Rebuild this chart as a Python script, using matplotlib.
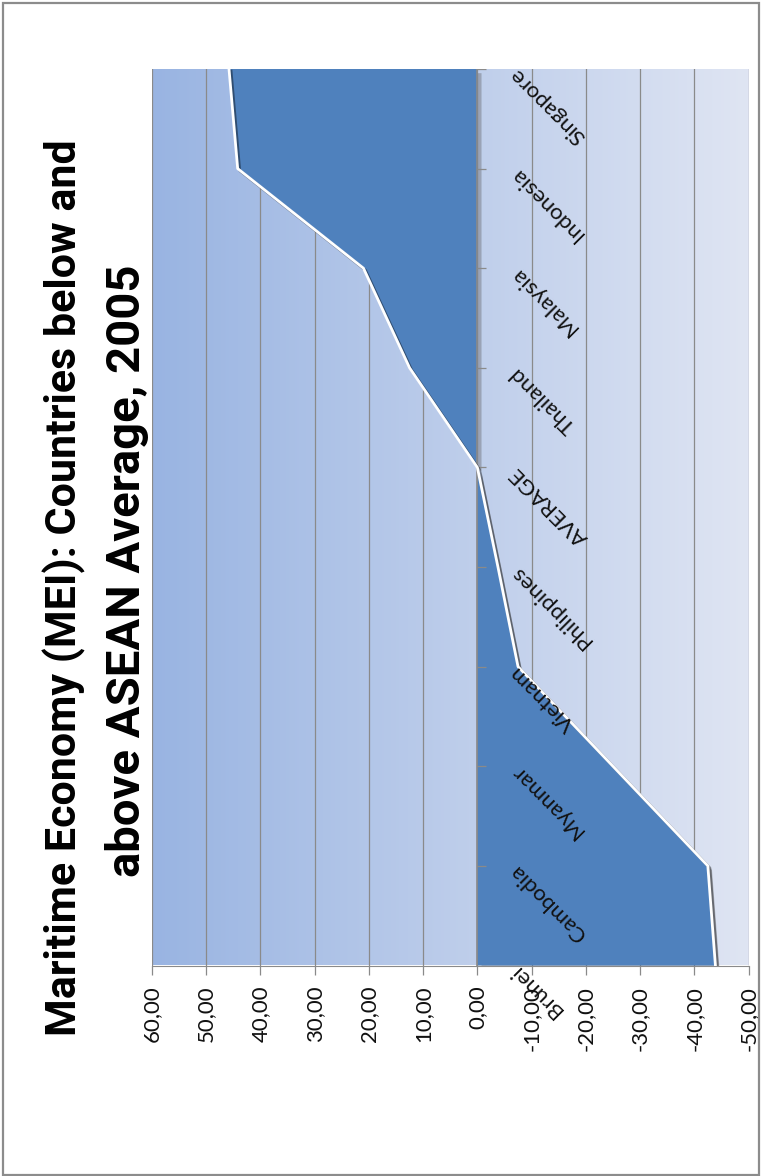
import numpy as np
import matplotlib
matplotlib.use("Agg")
import matplotlib.pyplot as plt
import matplotlib.patheffects as pe
from matplotlib.patches import Rectangle

plt.rcParams['font.family'] = ['Lato', 'DejaVu Sans']

# Data (MEI relative to ASEAN average, 2005)
countries = ["Brunei", "Cambodia", "Myanmar", "Vietnam", "Philippines",
             "AVERAGE", "Thailand", "Malaysia", "Indonesia", "Singapore"]
mei_values = [-43.9, -42.5, -25.0, -7.5, -3.8, 0.0, 12.5, 21.0, 44.2, 45.8]
value_ticks = [60, 50, 40, 30, 20, 10, 0, -10, -20, -30, -40, -50]
tick_labels = ["60,00", "50,00", "40,00", "30,00", "20,00", "10,00", "0,00",
               "-10,00", "-20,00", "-30,00", "-40,00", "-50,00"]
title_lines = ["Maritime Economy (MEI): Countries below and",
               "above ASEAN Average, 2005"]

W, H = 761, 1176
fig = plt.figure(figsize=(W / 100, H / 100), dpi=100)

# plot area (chart is drawn turned a quarter turn)
ax = fig.add_axes([152 / W, 1 - 965.5 / H, (748.5 - 152) / W, (965.5 - 69) / H])
pos = np.arange(len(countries))

# gradient background of the plot area
c_left = np.array([0.600, 0.706, 0.886])
c_right = np.array([0.875, 0.898, 0.953])
t = np.linspace(0, 1, 256)
grad = (c_left[None, :] * (1 - t[:, None]) + c_right[None, :] * t[:, None])[None, :, :]
ax.imshow(grad, extent=(60, -50, 0, 9), aspect='auto', zorder=0, interpolation='bilinear')

ax.set_xlim(60, -50)
ax.set_ylim(0, 9)

ax.set_xticks(value_ticks)
ax.set_xticklabels(tick_labels, rotation=90, fontsize=16, color='#111111')
ax.grid(axis='x', color='#8a8a8a', linewidth=0.9, zorder=1)
ax.set_yticks([])
for s in ['top', 'left', 'right']:
    ax.spines[s].set_visible(False)
ax.spines['bottom'].set_color('#8a8a8a')
ax.tick_params(axis='x', direction='out', length=6.5, width=0.9, color='#8a8a8a', pad=8)

# area
area = ax.fill_betweenx(pos, 0, mei_values, color='#4f81bd', linewidth=0, zorder=2)
area.set_path_effects([pe.SimplePatchShadow(offset=(3, -3), shadow_rgbFace='#555555', alpha=0.35),
                       pe.Normal()])
ax.plot(mei_values, pos, color='white', linewidth=2, zorder=3,
        path_effects=[pe.SimpleLineShadow(offset=(1.5, -1.5), alpha=0.4), pe.Normal()])

# category axis at zero
ax.axvline(0, color='#8a8a8a', linewidth=1.2, zorder=2.5)
ax.hlines(pos, 0, -1.6, color='#8a8a8a', linewidth=0.9, zorder=2.5)

for i, name in enumerate(countries):
    ax.annotate(name, xy=(0, pos[i]), xytext=(36, -2), textcoords='offset pixels',
                rotation=135, rotation_mode='anchor', ha='right', va='center',
                fontsize=16, color='#111111', zorder=5, annotation_clip=False)

# title, one text per line, baselines
title_font = ['Liberation Sans Narrow', 'Roboto', 'DejaVu Sans']
for line, bx, cy, fs in zip(title_lines, [77, 140], [588, 571], [31, 34]):
    fig.text(bx / W, 1 - cy / H, line, rotation=90, rotation_mode='anchor',
             ha='center', va='baseline', fontsize=fs, fontweight='bold',
             family=title_font)

fig.patches.append(Rectangle((2.5 / W, 1.5 / H), (756 / W), (1172 / H), transform=fig.transFigure,
                             fill=False, edgecolor='#8c8c8c', linewidth=1.6))

fig.savefig("out.png", dpi=100)
